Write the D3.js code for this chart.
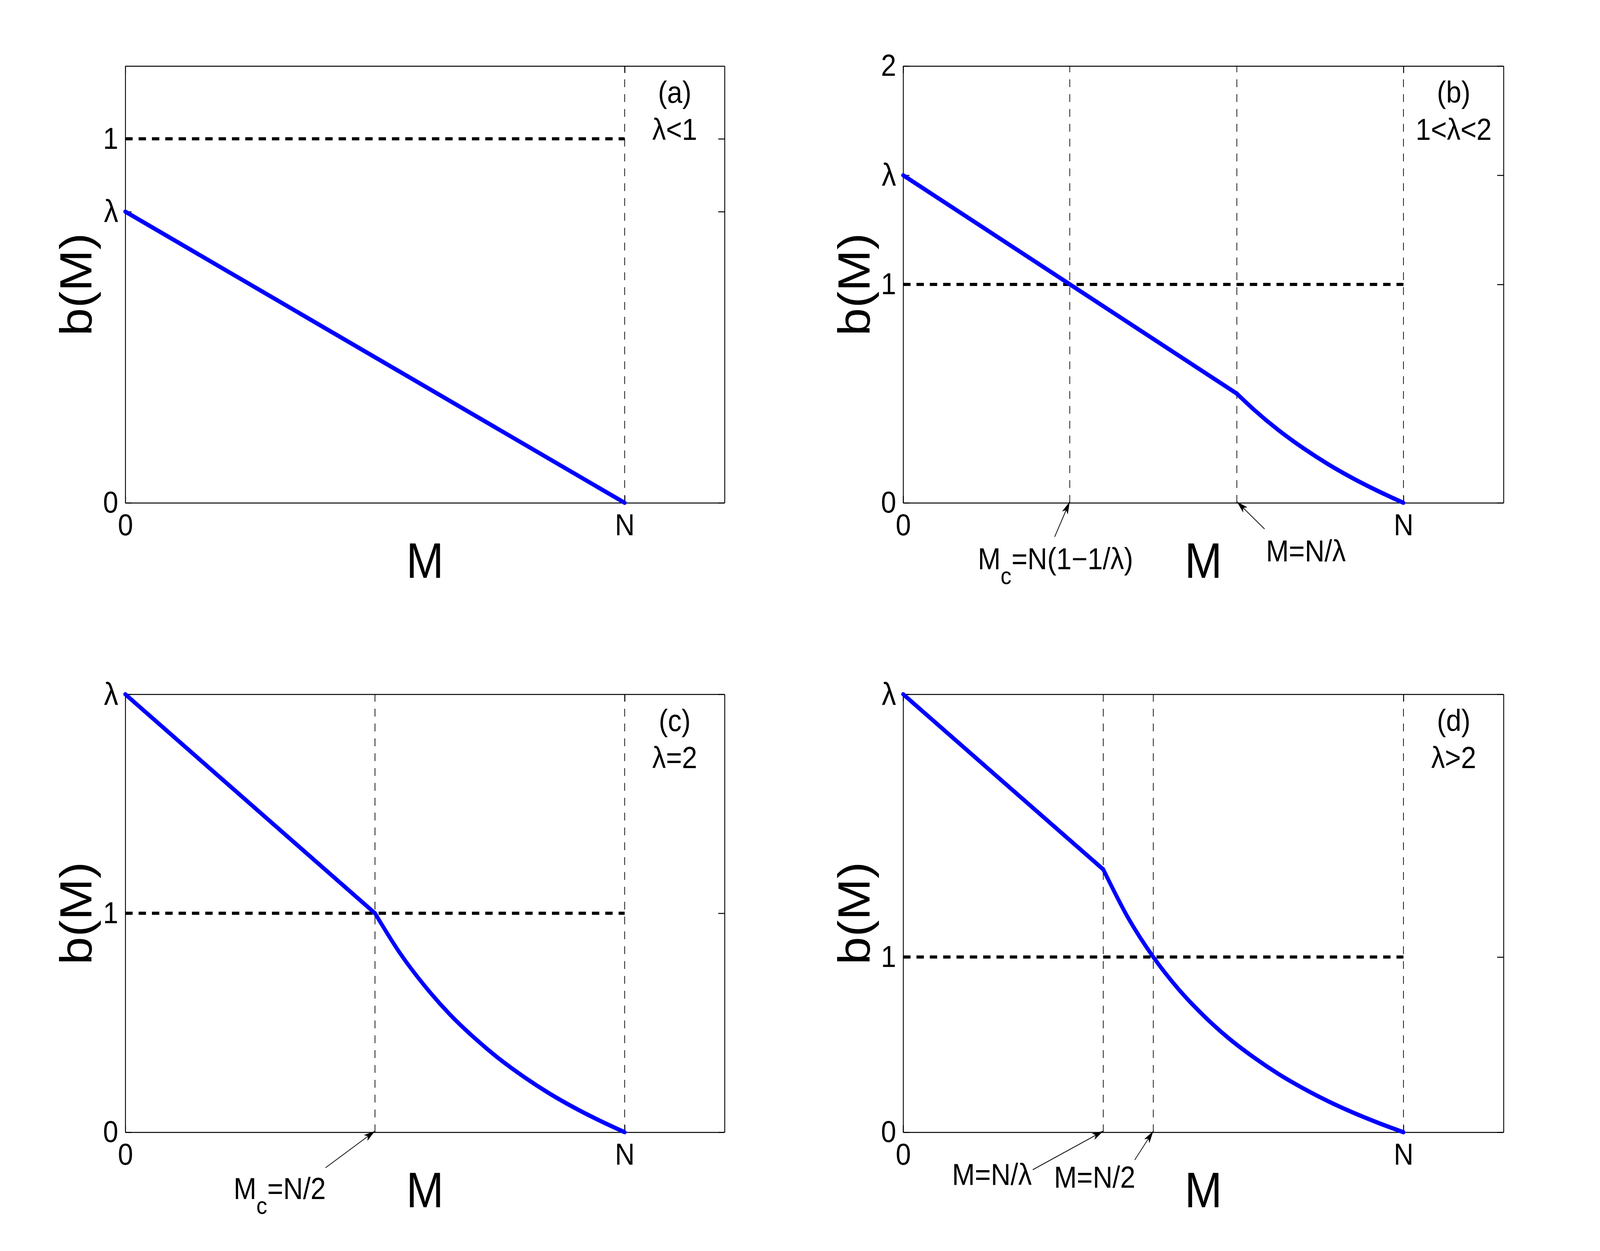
<!DOCTYPE html>
<html>
<head>
<meta charset="utf-8">
<script src="https://cdn.jsdelivr.net/npm/d3@7"></script>
<style>
  html, body { margin: 0; padding: 0; background: #fff; overflow: hidden; }
  svg { display: block; }
  text { font-family: "Liberation Sans", Arial, Helvetica, sans-serif; fill: #000; }
</style>
</head>
<body>
<div id="chart"></div>
<script>
// ---- data (M in units of N) ----
const panelTags = ["(a)", "(b)", "(c)", "(d)"];
const panelConditions = ["λ<1", "1<λ<2", "λ=2", "λ>2"];
const lambdaValues = [0.8, 1.5, 2, 2.5];
const yMaxValues = [1.2, 2, 2, 2.5];
const xMaxValue = 1.2;

const xTickValues = [0, 1];
const xTickLabels = ["0", "N"];
const yTickValues = [[0, 0.8, 1], [0, 1, 1.5, 2], [0, 1, 2], [0, 1, 2.5]];
const yTickLabels = [["0", "λ", "1"], ["0", "1", "λ", "2"], ["0", "1", "λ"], ["0", "1", "λ"]];

// thin dashed verticals
const markerM = [[1], [0.333, 0.667, 1], [0.5, 1], [0.4, 0.5, 1]];
// thick dashed level b = 1, drawn from M = 0 to M = N
const levelB = 1;
const levelM = [0, 1];

// b(M): straight part and curved part
const straightM = [[0, 1], [0, 0.667], [0, 0.5], [0, 0.4]];
const straightB = [[0.8, 0], [1.5, 0.5], [2, 1], [2.5, 1.5]];
const curveM = [
  [],
  [0.667, 0.7, 0.75, 0.8, 0.85, 0.9, 0.95, 1],
  [0.5, 0.55, 0.6, 0.65, 0.7, 0.75, 0.8, 0.85, 0.9, 0.95, 1],
  [0.4, 0.45, 0.5, 0.55, 0.6, 0.65, 0.7, 0.75, 0.8, 0.85, 0.9, 0.95, 1]
];
const curveB = [
  [],
  [0.5, 0.429, 0.333, 0.25, 0.176, 0.111, 0.053, 0],
  [1, 0.818, 0.667, 0.538, 0.429, 0.333, 0.25, 0.176, 0.111, 0.053, 0],
  [1.5, 1.222, 1, 0.818, 0.667, 0.538, 0.429, 0.333, 0.25, 0.176, 0.111, 0.053, 0]
];

// arrow annotations: M value pointed at, and text [main, subscript, rest]
const annotationM = [[], [0.333, 0.667], [0.5], [0.4, 0.5]];
const annotationText = [
  [],
  [["M", "c", "=N(1−1/λ)"], ["M=N/λ"]],
  [["M", "c", "=N/2"]],
  [["M=N/λ"], ["M=N/2"]]
];

// ---- layout (reference pixels) ----
const W = 4560, H = 3202;
const boxes = [
  {left: 357, right: 2065, top: 169, bottom: 1287},
  {left: 2574, right: 4285, top: 169, bottom: 1287},
  {left: 357, right: 2065, top: 1777, bottom: 2898},
  {left: 2574, right: 4285, top: 1777, bottom: 2898}
];
// tail offset and text position relative to the arrow tip
const annotationLayout = [
  [],
  [{tx: -43, ty: 90, lx: -262, ly: 170}, {tx: 79, ty: 70, lx: 83, ly: 150}],
  [{tx: -141, ty: 94, lx: -403, ly: 171}],
  [{tx: -201, ty: 99, lx: -431, ly: 135}, {tx: -53, ty: 74, lx: -283, ly: 142}]
];

const smallFont = 78, bigFont = 128, tickLen = 18;

// drawing is made at reference size and stretched to fill the window
const svg = d3.select("#chart").append("svg")
  .attr("viewBox", `0 0 ${W} ${H}`)
  .attr("preserveAspectRatio", "none")
  .style("width", "100vw")
  .style("height", "100vh");
svg.append("rect").attr("width", W).attr("height", H).attr("fill", "#fff");

function styleAxis(g) {
  g.attr("font-size", smallFont)
    .attr("font-family", '"Liberation Sans", Arial, sans-serif');
  g.select(".domain").attr("stroke", "#000").attr("stroke-width", 2.5);
  g.selectAll(".tick line").attr("stroke", "#000").attr("stroke-width", 2.5);
  g.selectAll(".tick text")
    .filter(function () { return d3.select(this).text() === "λ"; })
    .attr("font-family", '"Liberation Serif", "DejaVu Serif", serif')
    .attr("font-size", 82);
}

function drawArrow(g, x1, y1, x2, y2) {
  const ang = Math.atan2(y2 - y1, x2 - x1) * 180 / Math.PI;
  g.append("line")
    .attr("x1", x1).attr("y1", y1).attr("x2", x2).attr("y2", y2)
    .attr("stroke", "#000").attr("stroke-width", 2);
  g.append("path")
    .attr("d", "M0,0 L-32,-9 L-24,0 L-32,9 Z")
    .attr("transform", `translate(${x2},${y2}) rotate(${ang})`)
    .attr("fill", "#000");
}

function drawRichText(g, x, y, parts) {
  const t = g.append("text")
    .attr("x", x).attr("y", y)
    .attr("font-size", smallFont);
  t.append("tspan").text(parts[0]);
  if (parts.length > 1) {
    t.append("tspan").attr("dy", 38).attr("font-size", 62).text(parts[1]);
    t.append("tspan").attr("dy", -38).text(parts[2]);
  }
}

boxes.forEach((box, i) => {
  const g = svg.append("g").attr("class", "panel");

  const x = d3.scaleLinear().domain([0, xMaxValue]).range([box.left, box.right]);
  const y = d3.scaleLinear().domain([0, yMaxValues[i]]).range([box.bottom, box.top]);

  // axes (box with inward ticks on all sides)
  g.append("g")
    .attr("transform", `translate(0,${box.bottom})`)
    .call(d3.axisBottom(x).tickValues(xTickValues)
      .tickFormat((d, k) => xTickLabels[k])
      .tickSizeInner(-tickLen).tickSizeOuter(0).tickPadding(28))
    .call(styleAxis);
  g.append("g")
    .attr("transform", `translate(0,${box.top})`)
    .call(d3.axisTop(x).tickValues(xTickValues).tickFormat("")
      .tickSizeInner(-tickLen).tickSizeOuter(0))
    .call(styleAxis);
  g.append("g")
    .attr("transform", `translate(${box.left},0)`)
    .call(d3.axisLeft(y).tickValues(yTickValues[i])
      .tickFormat((d, k) => yTickLabels[i][k])
      .tickSizeInner(-tickLen).tickSizeOuter(0).tickPadding(20))
    .call(styleAxis);
  g.append("g")
    .attr("transform", `translate(${box.right},0)`)
    .call(d3.axisRight(y).tickValues(yTickValues[i]).tickFormat("")
      .tickSizeInner(-tickLen).tickSizeOuter(0))
    .call(styleAxis);

  // thin dashed verticals
  g.selectAll(".marker")
    .data(markerM[i])
    .join("line")
    .attr("class", "marker")
    .attr("x1", d => x(d)).attr("x2", d => x(d))
    .attr("y1", y(0)).attr("y2", y(yMaxValues[i]))
    .attr("stroke", "#000").attr("stroke-width", 2)
    .attr("stroke-dasharray", "20 18");

  // thick dashed level b = 1
  g.append("line")
    .attr("x1", x(levelM[0])).attr("x2", x(levelM[1]))
    .attr("y1", y(levelB)).attr("y2", y(levelB))
    .attr("stroke", "#000").attr("stroke-width", 8)
    .attr("stroke-dasharray", "21 17");

  // b(M)
  const line = d3.line()
    .x(d => x(d[0]))
    .y(d => y(d[1]))
    .curve(d3.curveMonotoneX);

  const straightPts = straightM[i].map((m, k) => [m, straightB[i][k]]);
  const curvePts = curveM[i].map((m, k) => [m, curveB[i][k]]);

  [straightPts, curvePts].filter(p => p.length > 1).forEach(pts => {
    g.append("path")
      .attr("d", line(pts))
      .attr("fill", "none")
      .attr("stroke", "#0000ff")
      .attr("stroke-width", 11)
      .attr("stroke-linejoin", "round")
      .attr("stroke-linecap", "round");
  });

  // axis labels
  g.append("text")
    .attr("x", (box.left + box.right) / 2)
    .attr("y", box.bottom + 192)
    .attr("text-anchor", "middle")
    .attr("font-size", bigFont)
    .text("M");

  g.append("text")
    .attr("transform", `translate(${box.left - 96},${(box.top + box.bottom) / 2}) rotate(-90)`)
    .attr("text-anchor", "middle")
    .attr("font-size", bigFont)
    .text("b(M)");

  // panel tag and condition
  g.append("text")
    .attr("x", box.right - 142)
    .attr("y", box.top + 94)
    .attr("text-anchor", "middle")
    .attr("font-size", smallFont)
    .text(panelTags[i]);
  g.append("text")
    .attr("x", box.right - 142)
    .attr("y", box.top + 189)
    .attr("text-anchor", "middle")
    .attr("font-size", smallFont)
    .text(panelConditions[i]);

  // annotations with arrows
  annotationM[i].forEach((m, k) => {
    const lay = annotationLayout[i][k];
    const tipX = x(m), tipY = y(0) - 3;
    drawArrow(g, tipX + lay.tx, tipY + lay.ty, tipX, tipY);
    drawRichText(g, tipX + lay.lx, y(0) + lay.ly, annotationText[i][k]);
  });
});
</script>
</body>
</html>
